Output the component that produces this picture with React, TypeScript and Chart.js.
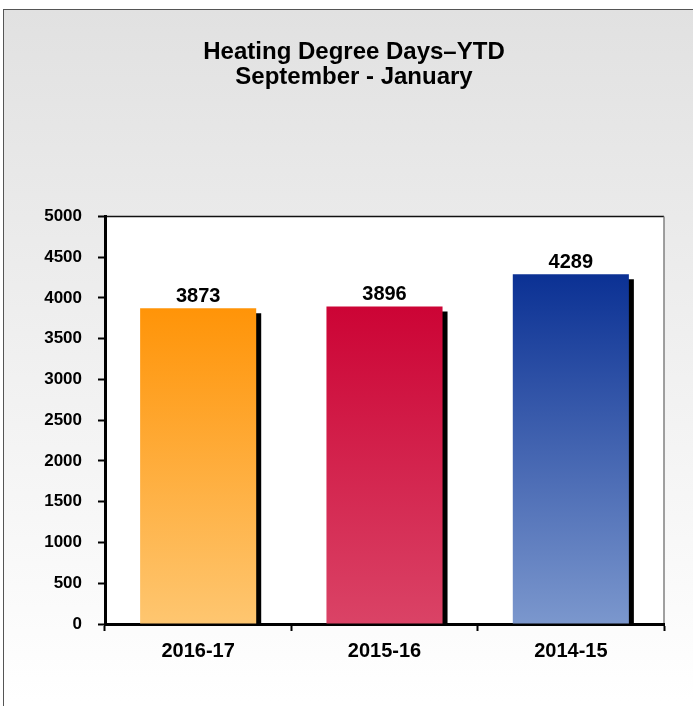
import React, { useEffect, useRef } from "react";
import { Chart, registerables } from "chart.js";

Chart.register(...registerables);

const categories = ["2016-17", "2015-16", "2014-15"];
const hddValues = [3873, 3896, 4289];
const titleLines = ["Heating Degree Days\u2013YTD", "September - January"];
const yMin = 0;
const yMax = 5000;
const yStep = 500;

const topColors = ["#ff9408", "#cc0435", "#0b3194"];
const bottomColors = ["#fec670", "#da4366", "#7b97cd"];

const FONT = "'Liberation Sans', Arial, Helvetica, sans-serif";

const plotFrame = {
  id: "plotFrame",
  beforeDraw(chart: any) {
    const { ctx, chartArea: a } = chart;
    ctx.save();
    ctx.fillStyle = "#ffffff";
    ctx.fillRect(a.left, a.top, a.right - a.left, a.bottom - a.top);
    ctx.lineWidth = 1.5;
    ctx.strokeStyle = "#111111";
    ctx.beginPath();
    ctx.moveTo(a.left, a.top);
    ctx.lineTo(a.right, a.top);
    ctx.stroke();
    ctx.strokeStyle = "#808080";
    ctx.beginPath();
    ctx.moveTo(a.right, a.top);
    ctx.lineTo(a.right, a.bottom);
    ctx.stroke();
    ctx.restore();
  },
};

const barShadow = {
  id: "barShadow",
  beforeDatasetDraw(chart: any) {
    const ctx = chart.ctx;
    ctx.save();
    ctx.shadowColor = "#000000";
    ctx.shadowOffsetX = 5;
    ctx.shadowOffsetY = 5;
    ctx.shadowBlur = 0;
  },
  afterDatasetDraw(chart: any) {
    chart.ctx.restore();
  },
};

const valueLabels = {
  id: "valueLabels",
  afterDatasetsDraw(chart: any) {
    const ctx = chart.ctx;
    const meta = chart.getDatasetMeta(0);
    ctx.save();
    ctx.font = `bold 20px ${FONT}`;
    ctx.fillStyle = "#000000";
    ctx.textAlign = "center";
    ctx.textBaseline = "bottom";
    meta.data.forEach((bar: any, i: number) => {
      ctx.fillText(String(hddValues[i]), bar.x, bar.y - 2);
    });
    ctx.restore();
  },
};

export default function App() {
  const canvasRef = useRef<HTMLCanvasElement | null>(null);

  useEffect(() => {
    if (!canvasRef.current) return;
    const chart = new Chart(canvasRef.current, {
      type: "bar",
      data: {
        labels: categories,
        datasets: [
          {
            data: hddValues,
            clip: 0,
            borderWidth: 0,
            categoryPercentage: 1,
            barPercentage: 0.623,
            backgroundColor: (c: any) => {
              const chart = c.chart;
              const area = chart.chartArea;
              const i = c.dataIndex ?? 0;
              if (!area || !chart.scales.y) return topColors[i];
              const y = chart.scales.y.getPixelForValue(hddValues[i]);
              const g = chart.ctx.createLinearGradient(0, y, 0, area.bottom);
              g.addColorStop(0, topColors[i]);
              g.addColorStop(1, bottomColors[i]);
              return g;
            },
          } as any,
        ],
      },
      options: {
        responsive: false,
        animation: false,
        layout: { padding: { left: 44, right: 29, top: 0, bottom: 0 } },
        plugins: {
          legend: { display: false },
          tooltip: { enabled: false },
          title: {
            display: true,
            text: titleLines,
            color: "#000000",
            font: { family: FONT, size: 24, weight: "bold", lineHeight: 1.05 },
            padding: { top: 40, bottom: 126 },
          },
        },
        scales: {
          x: {
            z: 1,
            afterFit: (s: any) => {
              s.height = 82;
            },
            grid: {
              drawOnChartArea: false,
              drawTicks: true,
              tickLength: 7,
              tickColor: "#000000",
              tickWidth: 2,
              offset: true,
            },
            border: { display: true, color: "#000000", width: 3 },
            ticks: {
              color: "#000000",
              padding: 8,
              font: { family: FONT, size: 20, weight: "bold" },
            },
          },
          y: {
            z: 1,
            min: yMin,
            max: yMax,
            afterFit: (s: any) => {
              s.width = 61;
            },
            grid: {
              drawOnChartArea: false,
              drawTicks: true,
              tickLength: 7,
              tickColor: "#000000",
              tickWidth: 2,
            },
            border: { display: true, color: "#000000", width: 3 },
            ticks: {
              stepSize: yStep,
              color: "#000000",
              padding: 16,
              font: { family: FONT, size: 17, weight: "bold" },
              callback: (v: any) => String(v),
            },
          },
        },
      },
      plugins: [plotFrame, barShadow, valueLabels],
    });
    return () => chart.destroy();
  }, []);

  return (
    <div
      style={{
        position: "absolute",
        left: 0,
        top: 0,
        width: 693,
        height: 706,
        background: "#ffffff",
        overflow: "hidden",
      }}
    >
      <div
        style={{
          position: "absolute",
          left: 3,
          top: 9,
          width: 720,
          height: 720,
          borderLeft: "1.5px solid #555555",
          borderTop: "1.5px solid #555555",
          background: "linear-gradient(#e1e1e1, #ffffff 96%)",
        }}
      />
      <canvas
        ref={canvasRef}
        width={693}
        height={706}
        style={{ position: "absolute", left: 0, top: 0 }}
      />
    </div>
  );
}
